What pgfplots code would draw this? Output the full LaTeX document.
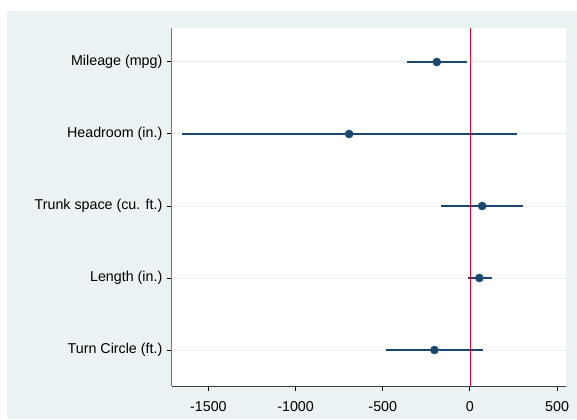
\documentclass[border=0pt]{standalone}
\usepackage{fontspec}
\setmainfont{Liberation Sans}
\usepackage{pgfplots}
\pgfplotsset{compat=1.18}
\definecolor{bgc}{RGB}{234,242,243}
\definecolor{gridc}{RGB}{230,238,240}
\definecolor{cinavy}{RGB}{26,71,111}
\definecolor{zeroc}{RGB}{204,16,58}
\begin{document}
\begin{tikzpicture}[x=0.75pt,y=0.75pt]
\useasboundingbox[fill=white] (-172,-33) rectangle (405,386);
\fill[bgc] (-165,-33) rectangle (405,375);
\fill[white] (0,0) rectangle (394,358);
\begin{axis}[
  at={(0,0)}, anchor=south west,
  width=295.5pt, height=268.5pt, scale only axis,
  xmin=-1709, xmax=551, ymin=0.528, ymax=5.5, y dir=reverse,
  axis x line*=bottom, axis y line*=left,
  x axis line style={-, black!75, line width=0.75pt},
  y axis line style={-, black!55, line width=0.75pt},
  tick align=outside, major tick length=3.75pt,
  tick style={black, line width=0.75pt},
  xtick={-1500,-1000,-500,0,500},
  xticklabels={-1500,-1000,-500,0,500},
  ytick={1,2,3,4,5},
  yticklabels={Mileage (mpg),Headroom (in.),Trunk space (cu. ft.),Length (in.),Turn Circle (ft.)},
  ymajorgrids, grid style={gridc, line width=0.75pt},
  tick label style={font=\fontsize{10.7}{12}\selectfont},
  xticklabel style={yshift=-4.5pt},
  /pgf/number format/assume math mode=true,
  clip=false,
]
\addplot[only marks, mark=*, mark size=3pt, color=cinavy,
  error bars/.cd, x dir=both, x explicit,
  error mark=none, error bar style={line width=1.1pt, cinavy}]
  table[x=b, y=pos, x error plus=ep, x error minus=em] {
pos b em ep
1 -190 172 174
2 -693 958 964
3 70 238 235
4 54 68 73
5 -204 277 279
};
\addplot[color=zeroc, line width=0.6pt, mark=none] coordinates {(0,0.528) (0,5.5)};
\end{axis}
\end{tikzpicture}
\end{document}
